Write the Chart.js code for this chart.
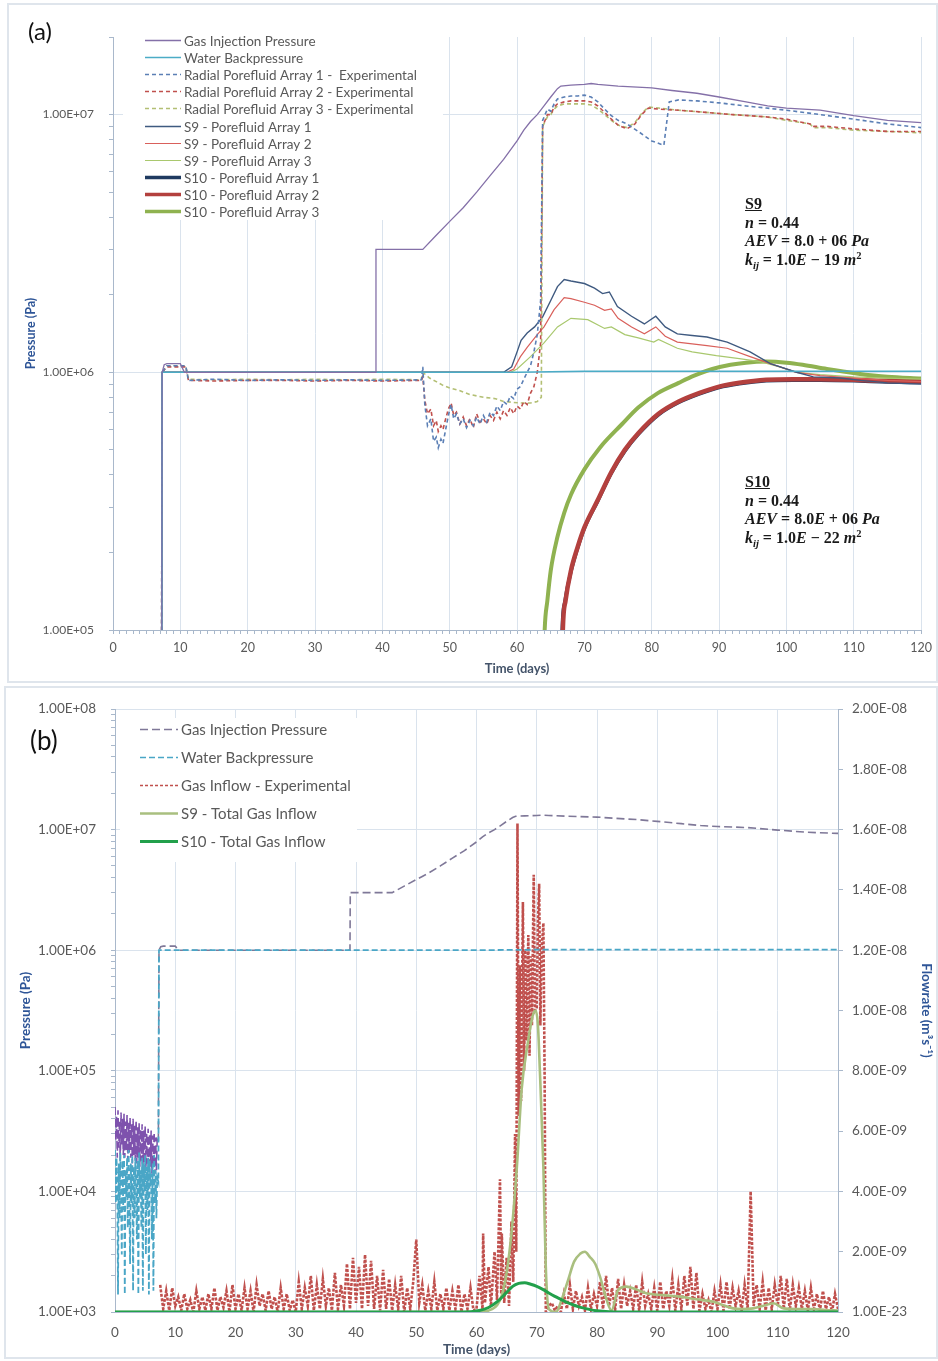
<!DOCTYPE html>
<html>
<head>
<meta charset="utf-8">
<title>Porefluid pressure and gas inflow</title>
<style>
  html, body { margin: 0; padding: 0; background: #fff; }
  #page { position: relative; width: 938px; height: 1361px; overflow: hidden; font-family: Lato, "DejaVu Sans", sans-serif; }
  .frame { position: absolute; border: 2px solid #dfe5ec; box-sizing: border-box; }
  canvas { position: absolute; left: 0; }
  .tag { position: absolute; color: #111; }
  .note { position: absolute; font-family: "Liberation Serif", "DejaVu Serif", serif; font-weight: bold; font-size: 16px; line-height: 18.5px; color: #1a1a1a; white-space: nowrap; }
  .note sub, .note sup { font-size: 10.5px; line-height: 0; }
</style>
</head>
<body>
<div id="page">
  <div class="frame" style="left:7px;top:3px;width:931px;height:680px"></div>
  <div class="frame" style="left:4px;top:686px;width:934px;height:673px"></div>
  <canvas id="chartA" width="938" height="683" style="top:0"></canvas>
  <canvas id="chartB" width="938" height="678" style="top:683px"></canvas>
  <div class="tag" style="left:28px;top:19px;font-size:24px;line-height:24px">(a)</div>
  <div class="tag" style="left:30px;top:727px;font-size:26px;line-height:26px">(b)</div>
  <div class="note" style="left:745px;top:195px">
    <u>S9</u><br>
    <i>n</i> = 0.44<br>
    <i>AEV</i> = 8.0 + 06 <i>Pa</i><br>
    <i>k<sub>ij</sub></i> = 1.0<i>E</i> − 19 <i>m</i><sup>2</sup>
  </div>
  <div class="note" style="left:745px;top:473px">
    <u>S10</u><br>
    <i>n</i> = 0.44<br>
    <i>AEV</i> = 8.0<i>E</i> + 06 <i>Pa</i><br>
    <i>k<sub>ij</sub></i> = 1.0<i>E</i> − 22 <i>m</i><sup>2</sup>
  </div>
</div>

<script src="https://cdn.jsdelivr.net/npm/chart.js"></script>
<script>
// sample times for evenly logged records
const ts = (start, step, n) => Array.from({ length: n }, (_, i) => +(start + i * step).toFixed(3));

// ---- axis labels ----
const dayLabels = [0, 10, 20, 30, 40, 50, 60, 70, 80, 90, 100, 110, 120];
const pressureTicksA = [1e5, 1e6, 1e7];
const pressureTicksB = [1e3, 1e4, 1e5, 1e6, 1e7, 1e8];
const flowTicks = [1e-23, 2e-9, 4e-9, 6e-9, 8e-9, 1e-8, 1.2e-8, 1.4e-8, 1.6e-8, 1.8e-8, 2e-8];

// ---- gas injection pressure (Pa) ----
const gasEarlyDays = ts(0, 0.125, 57);
const gasEarlyPa = [5.0e4, 2.6e4, 4.2e4, 1.9e4, 4.7e4, 2.3e4, 3.9e4, 1.8e4, 4.5e4, 2.4e4,
  4.0e4, 2.0e4, 4.4e4, 1.9e4, 3.8e4, 2.2e4, 4.3e4, 1.8e4, 3.7e4, 2.1e4,
  4.1e4, 1.9e4, 3.6e4, 1.7e4, 4.0e4, 2.0e4, 3.5e4, 1.8e4, 3.9e4, 1.7e4,
  3.4e4, 1.9e4, 3.7e4, 1.6e4, 3.3e4, 1.8e4, 3.6e4, 1.6e4, 3.2e4, 1.7e4,
  3.5e4, 1.5e4, 3.1e4, 1.7e4, 3.3e4, 1.5e4, 3.0e4, 1.6e4, 3.2e4, 1.4e4,
  2.9e4, 1.6e4, 3.1e4, 1.4e4, 2.8e4, 1.5e4, 2.7e4];
const gasLateDays = [7.2, 7.3, 7.6, 8, 10, 10.6, 11, 20, 30, 39, 39.05, 46, 48, 50, 52, 54, 56, 58, 60, 61, 62, 63, 64,
  65, 66, 66.5, 68, 70, 71, 72, 75, 80, 83, 86.7, 90, 94, 97.2, 100, 105, 110, 115, 120];
const gasLatePa = [2.6e4, 1.0e6, 1.07e6, 1.08e6, 1.08e6, 1.0e6, 1.0e6, 1.0e6, 1.0e6, 1.0e6, 3.0e6, 3.0e6, 3.4e6, 3.85e6,
  4.35e6, 5.0e6, 5.8e6, 6.7e6, 7.9e6, 8.7e6, 9.4e6, 1.0e7, 1.08e7, 1.17e7, 1.26e7, 1.29e7, 1.3e7, 1.31e7, 1.32e7,
  1.31e7, 1.29e7, 1.27e7, 1.24e7, 1.21e7, 1.17e7, 1.12e7, 1.08e7, 1.06e7, 1.04e7, 9.9e6, 9.5e6, 9.3e6];

// ---- water backpressure (Pa) ----
const waterEarlyDays = ts(0, 0.125, 57);
const waterEarlyPa = [2.2e4, 8e3, 1.9e4, 1.2e4, 1.4e3, 1.7e4, 6e3, 2.1e4, 1.0e4, 3e3,
  1.8e4, 7e3, 2.0e4, 1.4e3, 1.5e4, 9e3, 1.9e4, 5e3, 2.2e4, 1.1e4,
  2.5e3, 1.7e4, 8e3, 2.0e4, 1.5e3, 1.6e4, 6e3, 1.9e4, 1.2e4, 4e3,
  1.8e4, 1.4e3, 2.1e4, 9e3, 1.5e4, 5e3, 1.9e4, 1.5e3, 1.7e4, 1.0e4,
  2.0e4, 3e3, 1.6e4, 7e3, 1.9e4, 1.4e3, 1.8e4, 1.1e4, 1.4e4, 4e3,
  1.7e4, 1.5e3, 2.0e4, 8e3, 1.5e4, 6e3, 1.3e4];
const waterLateDays = [7.2, 7.3, 20, 40, 60, 70, 80, 100, 120];
const waterLatePa = [1.2e4, 1.0e6, 1.0e6, 1.0e6, 1.0e6, 1.01e6, 1.01e6, 1.01e6, 1.01e6];

// ---- radial porefluid arrays, experimental (Pa) ----
const exp1Days = [7.2, 7.3, 8, 10.8, 11.2, 15, 20, 25, 30, 35, 40, 45.8, 46, 46.3, 46.7, 47.2, 47.6, 48, 48.3, 48.7,
  49, 49.4, 49.8, 50.2, 50.6, 51, 51.5, 52, 52.5, 53, 53.5, 54, 54.5, 55, 55.5, 56, 56.5, 57, 57.5, 58, 58.5, 59,
  59.5, 60, 60.5, 61, 61.5, 62, 62.5, 63, 63.5, 63.8, 64.5, 65, 65.5, 66, 67, 68, 69, 70, 71, 72, 73, 74, 75, 76.3,
  78, 80, 81.8, 82.6, 84, 86.7, 90, 94, 97, 100, 105, 110, 115, 120];
const exp1Pa = [5e4, 1.0e6, 1.06e6, 1.06e6, 9.3e5, 9.4e5, 9.3e5, 9.35e5, 9.3e5, 9.35e5, 9.3e5, 9.35e5, 1.05e6, 7.5e5,
  6.2e5, 6.6e5, 5.4e5, 5.6e5, 5.1e5, 5.5e5, 5.3e5, 6.0e5, 6.8e5, 7.5e5, 6.6e5, 6.9e5, 6.3e5, 6.6e5, 6.1e5, 6.5e5,
  6.2e5, 6.7e5, 6.3e5, 6.8e5, 6.4e5, 7.0e5, 6.8e5, 7.4e5, 7.1e5, 7.7e5, 7.5e5, 8.1e5, 7.9e5, 8.6e5, 8.8e5, 9.4e5,
  1.0e6, 1.06e6, 1.2e6, 1.4e6, 1.9e6, 9.5e6, 1.05e7, 1.03e7, 1.1e7, 1.15e7, 1.17e7, 1.18e7, 1.18e7, 1.19e7, 1.17e7,
  1.12e7, 1.05e7, 9.9e6, 9.5e6, 9.2e6, 8.6e6, 7.9e6, 7.6e6, 1.12e7, 1.14e7, 1.13e7, 1.11e7, 1.08e7, 1.06e7, 1.04e7,
  1.0e7, 9.6e6, 9.2e6, 8.9e6];
const exp2Days = [7.2, 7.3, 8, 10.8, 11.2, 15, 20, 25, 30, 35, 40, 45.8, 46, 46.3, 46.7, 47.2, 47.6, 48, 48.3, 48.7,
  49, 49.4, 49.8, 50.2, 50.6, 51, 51.5, 52, 52.5, 53, 53.5, 54, 54.5, 55, 55.5, 56, 56.5, 57, 57.5, 58, 58.5, 59,
  59.5, 60, 60.5, 61, 61.5, 62, 62.5, 63, 63.5, 63.8, 64.5, 65, 65.5, 66, 67, 68, 69, 70, 71, 72, 73, 74, 75, 76.3,
  77.5, 78.5, 79.5, 81, 84, 88, 92, 97, 100, 103.5, 104, 106, 110, 115, 120];
const exp2Pa = [5e4, 1.0e6, 1.05e6, 1.05e6, 9.3e5, 9.25e5, 9.3e5, 9.3e5, 9.25e5, 9.3e5, 9.25e5, 9.3e5, 9.6e5, 7.8e5,
  6.9e5, 7.2e5, 6.2e5, 6.5e5, 5.9e5, 6.2e5, 6.0e5, 6.6e5, 7.2e5, 7.6e5, 6.8e5, 7.0e5, 6.3e5, 6.7e5, 6.2e5, 6.6e5,
  6.1e5, 6.9e5, 6.4e5, 6.6e5, 6.3e5, 6.8e5, 6.5e5, 7.0e5, 6.6e5, 7.1e5, 6.8e5, 7.3e5, 6.9e5, 7.4e5, 7.2e5, 7.7e5,
  7.5e5, 8.3e5, 8.8e5, 1.0e6, 1.3e6, 9.0e6, 1.0e7, 1.0e7, 1.07e7, 1.1e7, 1.12e7, 1.13e7, 1.13e7, 1.13e7, 1.12e7,
  1.08e7, 1.02e7, 9.6e6, 9.1e6, 8.8e6, 9.2e6, 1.0e7, 1.06e7, 1.05e7, 1.04e7, 1.02e7, 1.0e7, 9.8e6, 9.6e6, 9.2e6,
  9.0e6, 9.0e6, 8.8e6, 8.6e6, 8.6e6];
const exp3Days = [7.2, 7.3, 8, 10.8, 11.2, 15, 20, 25, 30, 35, 40, 45.8, 46, 47, 48, 49, 50, 51.4, 53, 55, 56.8, 58,
  60.5, 62, 63, 63.6, 63.8, 64.5, 65, 65.5, 66, 67, 68, 70, 71, 72, 73, 74, 75, 76.3, 77.5, 78.5, 79.5, 81, 84, 88,
  92, 97, 100, 103.5, 104, 106, 110, 115, 120];
const exp3Pa = [5e4, 1.0e6, 1.06e6, 1.06e6, 9.4e5, 9.35e5, 9.4e5, 9.35e5, 9.4e5, 9.35e5, 9.4e5, 9.35e5, 1.0e6, 9.5e5,
  9.2e5, 8.9e5, 8.7e5, 8.5e5, 8.2e5, 8.0e5, 7.9e5, 7.7e5, 7.6e5, 7.6e5, 7.7e5, 8.0e5, 9.0e6, 9.8e6, 1.0e7, 1.05e7,
  1.08e7, 1.1e7, 1.1e7, 1.1e7, 1.09e7, 1.05e7, 1.0e7, 9.5e6, 9.1e6, 8.9e6, 9.3e6, 1.01e7, 1.07e7, 1.06e7, 1.04e7,
  1.02e7, 1.0e7, 9.8e6, 9.5e6, 9.2e6, 8.9e6, 8.9e6, 8.7e6, 8.6e6, 8.5e6];

// ---- S9 simulation, porefluid arrays (Pa) ----
const s9p1Days = [7.2, 7.3, 30, 58, 59.2, 60, 60.6, 61.5, 62.6, 63.8, 65, 66, 67, 68, 70, 71.5, 72.7, 73.7, 74.9, 77,
  78.9, 80.6, 82, 83.8, 86, 88.2, 91.2, 94.6, 97.6, 101.5, 104, 108, 111, 115, 120];
const s9p1Pa = [5e4, 1.0e6, 1.0e6, 1.0e6, 1.05e6, 1.2e6, 1.33e6, 1.42e6, 1.5e6, 1.64e6, 1.9e6, 2.15e6, 2.29e6, 2.26e6,
  2.21e6, 2.12e6, 2.02e6, 2.05e6, 1.8e6, 1.65e6, 1.54e6, 1.65e6, 1.5e6, 1.41e6, 1.39e6, 1.37e6, 1.31e6, 1.2e6, 1.08e6,
  1.0e6, 9.6e5, 9.5e5, 9.3e5, 9.1e5, 9.0e5];
const s9p2Days = [7.2, 7.3, 30, 58.5, 59.5, 60.5, 61.5, 63, 64, 65.5, 67, 68, 70, 71.5, 73, 74, 75, 77, 78.9, 80.6, 82,
  83.8, 86, 88.2, 91.2, 94.6, 97.6, 101.5, 105, 110, 115, 120];
const s9p2Pa = [5e4, 1.0e6, 1.0e6, 1.0e6, 1.03e6, 1.15e6, 1.25e6, 1.4e6, 1.5e6, 1.75e6, 1.95e6, 1.93e6, 1.87e6, 1.82e6,
  1.74e6, 1.76e6, 1.62e6, 1.5e6, 1.41e6, 1.5e6, 1.38e6, 1.31e6, 1.29e6, 1.27e6, 1.24e6, 1.15e6, 1.08e6, 1.0e6, 9.7e5,
  9.5e5, 9.3e5, 9.2e5];
const s9p3Days = [7.2, 7.3, 30, 59, 60, 62, 64, 66, 68, 70.5, 73, 74, 76, 78, 80.3, 81, 83.8, 86, 89.6, 93, 96.1, 99,
  101.5, 105, 110, 115, 120];
const s9p3Pa = [5e4, 1.0e6, 1.0e6, 1.0e6, 1.03e6, 1.15e6, 1.3e6, 1.5e6, 1.62e6, 1.6e6, 1.48e6, 1.5e6, 1.4e6, 1.36e6,
  1.31e6, 1.34e6, 1.24e6, 1.2e6, 1.16e6, 1.13e6, 1.1e6, 1.05e6, 1.0e6, 9.8e5, 9.6e5, 9.5e5, 9.4e5];

// ---- S10 simulation, porefluid arrays (Pa) ----
const s10p1Days = [66.5, 66.7, 67.1, 68, 69, 70, 72, 74, 76, 78, 81, 84, 87, 90, 93, 97, 101, 105, 110, 115, 120];
const s10p1Pa = [5e4, 1.0e5, 1.29e5, 1.68e5, 2.08e5, 2.48e5, 3.17e5, 4.06e5, 4.94e5, 5.74e5, 6.84e5, 7.63e5, 8.23e5,
  8.73e5, 9.03e5, 9.27e5, 9.32e5, 9.32e5, 9.27e5, 9.17e5, 9.12e5];
const s10p2Days = [66.6, 66.8, 67.2, 68, 69, 70, 72, 74, 76, 78, 81, 84, 87, 90, 93, 97, 101, 105, 110, 115, 120];
const s10p2Pa = [5e4, 1.0e5, 1.3e5, 1.7e5, 2.1e5, 2.5e5, 3.2e5, 4.1e5, 5.0e5, 5.8e5, 6.9e5, 7.7e5, 8.3e5, 8.8e5, 9.1e5,
  9.35e5, 9.4e5, 9.4e5, 9.35e5, 9.25e5, 9.2e5];
const s10p3Days = [63.8, 64.1, 64.5, 65, 66, 67, 68, 70, 72.3, 75.6, 78, 80.9, 84, 86.3, 89, 91.7, 94, 97, 100, 102.4,
  106, 110.4, 115, 120];
const s10p3Pa = [5e4, 1.0e5, 1.3e5, 1.7e5, 2.3e5, 2.85e5, 3.35e5, 4.2e5, 5.1e5, 6.3e5, 7.3e5, 8.3e5, 9.1e5, 9.7e5,
  1.03e6, 1.07e6, 1.09e6, 1.1e6, 1.09e6, 1.07e6, 1.03e6, 9.9e5, 9.6e5, 9.45e5];

// ---- gas inflow, experimental (1e-9 m3/s) ----
const inflowDaysA = ts(7.5, 0.5, 105);
const inflowRateA = [0.9, 0.1, 0.7, 0.05, 0.8, 0.2,
  0.5, 0.05, 0.6, 0.1, 0.4, 0.0, 0.7, 0.1, 0.5, 0.05,
  0.6, 0.1, 0.8, 0.05, 0.5, 0.15, 0.7, 0.0, 0.9, 0.1,
  0.6, 0.05, 0.8, 0.1, 0.7, 0.0, 0.9, 0.2, 0.6, 0.05,
  0.7, 0.1, 0.5, 0.0, 0.8, 0.1, 0.6, 0.05, 0.4, 0.0,
  1.0, 0.1, 0.8, 0.2, 1.2, 0.05, 0.9, 0.1, 1.1, 0.2,
  0.8, 0.05, 1.3, 0.1, 0.9, 0.2, 1.6, 0.1, 1.8, 0.3,
  1.5, 0.1, 1.9, 0.2, 1.7, 0.1, 1.2, 0.05, 1.4, 0.1,
  1.1, 0.05, 0.9, 0.1, 1.2, 0.0, 0.8, 0.1, 1.0, 2.4,
  0.3, 0.9, 0.05, 0.7, 0.1, 1.0, 0.05, 0.6, 0.1, 0.8,
  0.05, 0.7, 0.1, 0.9, 0.0, 0.6, 0.1, 0.8, 0.05];
const inflowBurstDays = [60, 60.5, 61, 61.1, 61.4, 62, 62.4, 63, 63.4, 63.9, 64.1, 64.2, 64.6, 65, 65.4, 65.8, 66.1,
  66.4, 66.6, 66.8, 67.0, 67.2, 67.4, 67.7, 67.9, 68.1, 68.3, 68.6, 68.8, 69.0, 69.2, 69.5, 69.7, 70.0, 70.2, 70.4,
  70.6, 70.8, 71.1, 71.3, 71.5, 72];
const inflowBurstRate = [0.1, 1.2, 0.1, 2.6, 0.3, 1.5, 0.2, 2.0, 0.4, 4.4, 0.6, 2.6, 0.3, 1.8, 0.2, 3.0, 1.0, 5.9, 2.0,
  16.2, 6.5, 11.5, 7.0, 13.6, 8.0, 12.0, 9.0, 12.5, 8.5, 11.8, 9.5, 14.5, 10.0, 10.1, 13.0, 14.2, 9.5, 12.0, 12.9,
  8.0, 0.0, 0.2];
const inflowDaysB = ts(72.5, 0.5, 96);
const inflowRateB = [0.3, 0.05, 0.2, 0.0, 0.6, 0.1,
  0.9, 0.1, 0.7, 0.2, 0.5, 0.05, 0.8, 0.1, 0.6, 0.2,
  1.0, 0.1, 1.2, 0.2, 0.8, 0.05, 1.1, 0.1, 0.9, 0.2,
  0.7, 0.1, 0.9, 0.05, 1.0, 0.2, 0.6, 0.1, 0.8, 0.05,
  1.0, 0.1, 0.7, 0.2, 1.1, 0.05, 0.9, 0.1, 1.2, 0.2,
  1.5, 0.1, 1.3, 0.05, 0.6, 0.1, 0.4, 0.0, 0.7, 0.1,
  0.9, 0.05, 1.0, 0.1, 0.8, 0.2, 0.7, 0.05, 0.9, 0.1,
  4.0, 0.2, 0.9, 0.1, 1.0, 0.05, 0.8, 0.1, 0.9, 0.2,
  1.2, 0.1, 1.1, 0.05, 0.9, 0.2, 0.8, 0.1, 0.7, 0.05,
  0.8, 0.1, 0.6, 0.05, 0.7, 0.1, 0.5, 0.0, 0.6, 0.1];

// ---- simulated total gas inflow (1e-9 m3/s) ----
const s9FlowDays = [0, 60, 62, 63.5, 64.2, 65.0, 65.8, 66.7, 67.5, 68.5, 69.3, 69.8, 70.2, 70.5, 71.1, 71.5, 72, 73.2,
  74.2, 75.2, 76.2, 77.2, 78, 78.8, 79.7, 80.5, 81.6, 82.4, 83.5, 84.9, 86.5, 88.2, 91, 93.8, 96.5, 99.3, 101, 102.6,
  104, 105.9, 107.5, 109.3, 111, 113, 115.9, 118, 120];
const s9FlowRate = [0, 0, 0.05, 0.25, 0.55, 1.3, 2.6, 4.8, 7.4, 8.9, 9.8, 10.0, 9.5, 8.1, 4.8, 1.5, 0.1, 0.0, 0.45,
  1.06, 1.67, 1.93, 2.0, 1.83, 1.6, 1.17, 0.4, 0.05, 0.73, 0.84, 0.75, 0.62, 0.56, 0.51, 0.42, 0.34, 0.22, 0.12, 0.1,
  0.12, 0.2, 0.29, 0.12, 0.1, 0.1, 0.06, 0.05];
const s10FlowDays = [0, 58, 60, 62, 63.5, 65, 66, 67, 68, 69, 70, 71, 72, 73, 74, 75, 76, 77, 78, 79, 80, 82, 84, 120];
const s10FlowRate = [0, 0, 0.03, 0.15, 0.35, 0.65, 0.85, 0.95, 0.97, 0.92, 0.85, 0.75, 0.63, 0.52, 0.42, 0.32, 0.24,
  0.17, 0.12, 0.07, 0.04, 0.01, 0, 0];

// ---- styling ----
const AXIS = '#a9b8cb';
const GRID = '#dae3ed';
const TICK_TXT = '#595959';
const TITLE_BLUE = '#2e5597';
const TITLE_SLATE = '#44546a';
const CLEAR = 'rgba(0,0,0,0)';
Chart.defaults.font.family = 'Lato, "DejaVu Sans", sans-serif';

const pts = (xs, ys, k = 1) => xs.map((x, i) => ({ x, y: ys[i] * k }));
const isDecade = v => Math.abs(Math.log10(v) - Math.round(Math.log10(v))) < 1e-6;

function fmtE(v) {
  const [m, e] = v.toExponential(2).split('e');
  const n = Number(e);
  return m + 'E' + (n < 0 ? '-' : '+') + String(Math.abs(n)).padStart(2, '0');
}

// decade ticks plus the 2..9 minor marks of a log axis
function logMarks(lo, hi) {
  const out = [];
  for (let e = Math.round(Math.log10(lo)); e <= Math.round(Math.log10(hi)); e++) {
    for (let k = 1; k <= 9; k++) {
      const v = k * Math.pow(10, e);
      if (v >= lo && v <= hi * 1.0001) out.push(v);
    }
  }
  return out;
}

function line(label, data, color, width, extra) {
  return Object.assign({
    label, data, borderColor: color, backgroundColor: color, borderWidth: width,
    pointRadius: 0, tension: 0, fill: false
  }, extra || {});
}

// white legend box drawn over the grid, under the data
const boxLegend = {
  id: 'boxLegend',
  beforeDatasetsDraw(chart, args, o) {
    const ctx = chart.ctx;
    ctx.save();
    ctx.fillStyle = '#fff';
    ctx.fillRect(o.box[0], o.box[1], o.box[2], o.box[3]);
    ctx.font = o.font;
    ctx.textBaseline = 'middle';
    chart.data.datasets.forEach((ds, i) => {
      const y = Math.round(o.y0 + i * o.dy) + 0.5;
      ctx.strokeStyle = ds.borderColor;
      ctx.lineWidth = Math.min(ds.legendWidth || ds.borderWidth, 3.5);
      ctx.setLineDash(ds.legendDash || ds.borderDash || []);
      ctx.beginPath();
      ctx.moveTo(o.x0, y);
      ctx.lineTo(o.x1, y);
      ctx.stroke();
      ctx.fillStyle = o.color;
      ctx.fillText(ds.label, o.tx, y + 1);
    });
    ctx.restore();
  }
};

const gasAll = pts(gasEarlyDays, gasEarlyPa).concat(pts(gasLateDays, gasLatePa));
const waterAll = pts(waterEarlyDays, waterEarlyPa).concat(pts(waterLateDays, waterLatePa));
const dayMarks = Array.from({ length: 121 }, (_, i) => i);

// ================= (a) porefluid pressures =================
new Chart(document.getElementById('chartA'), {
  type: 'line',
  data: {
    datasets: [
      line('Gas Injection Pressure', gasAll, '#8470a8', 1.3),
      line('Water Backpressure', waterAll, '#4bacc6', 1.6),
      line('Radial Porefluid Array 1 -  Experimental', pts(exp1Days, exp1Pa), '#5b7fb5', 1.6, { borderDash: [4, 3], legendWidth: 1.3 }),
      line('Radial Porefluid Array 2 - Experimental', pts(exp2Days, exp2Pa), '#c0504d', 1.6, { borderDash: [4, 3], legendWidth: 1.3 }),
      line('Radial Porefluid Array 3 - Experimental', pts(exp3Days, exp3Pa), '#b3bf74', 1.6, { borderDash: [4, 3], legendWidth: 1.3 }),
      line('S9 - Porefluid Array 1', pts(s9p1Days, s9p1Pa), '#3f5a80', 1.4),
      line('S9 - Porefluid Array 2', pts(s9p2Days, s9p2Pa), '#d9605b', 1.2),
      line('S9 - Porefluid Array 3', pts(s9p3Days, s9p3Pa), '#a9c86e', 1.2),
      line('S10 - Porefluid Array 1', pts(s10p1Days, s10p1Pa), '#1f3a60', 3.5, { cubicInterpolationMode: 'monotone', order: 1 }),
      line('S10 - Porefluid Array 2', pts(s10p2Days, s10p2Pa), '#b3403e', 4.5, { cubicInterpolationMode: 'monotone' }),
      line('S10 - Porefluid Array 3', pts(s10p3Days, s10p3Pa), '#8fb250', 4, { cubicInterpolationMode: 'monotone' })
    ]
  },
  options: {
    responsive: false,
    animation: false,
    devicePixelRatio: 1,
    layout: { padding: { left: 0, right: 13, top: 37, bottom: 0 } },
    plugins: {
      legend: { display: false },
      tooltip: { enabled: false },
      boxLegend: { box: [123, 30, 320, 190], x0: 145, x1: 181, tx: 184, y0: 40, dy: 17.1, font: '13.5px Lato, "DejaVu Sans", sans-serif', color: '#595959' }
    },
    scales: {
      x: {
        type: 'linear', min: 0, max: 120,
        afterBuildTicks: s => { s.ticks = dayMarks.map(value => ({ value })); },
        afterFit: s => { s.height = 53; },
        ticks: { autoSkip: false, maxRotation: 0, padding: 6, color: TICK_TXT, font: { size: 12.5 },
          callback: v => dayLabels.includes(v) ? String(v) : '' },
        grid: { color: c => c.tick && c.tick.value > 0 && c.tick.value % 10 === 0 ? GRID : CLEAR, tickColor: AXIS, tickLength: 4 },
        border: { color: AXIS },
        title: { display: true, text: 'Time (days)', color: TITLE_SLATE, font: { size: 13, weight: 'bold' }, padding: { top: 0, bottom: 6 } }
      },
      y: {
        type: 'logarithmic', min: 1e5, max: 2e7,
        afterBuildTicks: s => { s.ticks = logMarks(1e5, 2e7).map(value => ({ value })); },
        afterFit: s => { s.width = 113; },
        ticks: { autoSkip: false, padding: 15, color: TICK_TXT, font: { size: 12 },
          callback: v => pressureTicksA.includes(v) ? fmtE(v) : '' },
        grid: { color: c => c.tick && isDecade(c.tick.value) ? GRID : CLEAR, tickColor: AXIS, tickLength: 4 },
        border: { color: AXIS },
        title: { display: true, text: 'Pressure (Pa)', color: TITLE_BLUE, font: { size: 12.5, weight: 'bold' }, padding: { top: 23, bottom: 0 } }
      }
    }
  },
  plugins: [boxLegend]
});

// ================= (b) pressures and gas inflow =================
const inflowAll = pts(inflowDaysA, inflowRateA, 1e-9)
  .concat(pts(inflowBurstDays, inflowBurstRate, 1e-9))
  .concat(pts(inflowDaysB, inflowRateB, 1e-9));

new Chart(document.getElementById('chartB'), {
  type: 'line',
  data: {
    datasets: [
      line('Gas Injection Pressure', gasAll, '#7f7898', 1.6, {
        borderDash: [8, 4], yAxisID: 'y', legendWidth: 1.5,
        segment: { borderColor: c => c.p1.parsed.x <= 7.25 ? '#7e52ad' : undefined }
      }),
      line('Water Backpressure', waterAll, '#4aa6c6', 1.8, { borderDash: [6, 3], yAxisID: 'y', order: -1, legendWidth: 1.5 }),
      line('Gas Inflow - Experimental', inflowAll, '#c0504d', 2.6, { borderDash: [3, 1.5], yAxisID: 'yFlow', legendWidth: 1.5, legendDash: [3, 2] }),
      line('S9 - Total Gas Inflow', pts(s9FlowDays, s9FlowRate, 1e-9), '#a9bf7f', 2.6, { yAxisID: 'yFlow', cubicInterpolationMode: 'monotone', order: -2 }),
      line('S10 - Total Gas Inflow', pts(s10FlowDays, s10FlowRate, 1e-9), '#22a04b', 3, { yAxisID: 'yFlow', cubicInterpolationMode: 'monotone', order: -3 })
    ]
  },
  options: {
    responsive: false,
    animation: false,
    devicePixelRatio: 1,
    layout: { padding: { left: 0, right: 0, top: 26, bottom: 0 } },
    plugins: {
      legend: { display: false },
      tooltip: { enabled: false },
      boxLegend: { box: [120, 35, 237, 144], x0: 140, x1: 178, tx: 181, y0: 46, dy: 28, font: '15px Lato, "DejaVu Sans", sans-serif', color: '#595959' }
    },
    scales: {
      x: {
        type: 'linear', min: 0, max: 120,
        afterBuildTicks: s => { s.ticks = dayLabels.map(value => ({ value })); },
        afterFit: s => { s.height = 49; },
        ticks: { autoSkip: false, maxRotation: 0, padding: 13, color: TICK_TXT, font: { size: 13.5 } },
        grid: { color: c => c.tick && c.tick.value > 0 && c.tick.value < 120 ? GRID : CLEAR, drawTicks: false },
        border: { color: AXIS },
        title: { display: true, text: 'Time (days)', color: TITLE_SLATE, font: { size: 13.5, weight: 'bold' }, padding: { top: 0, bottom: 3 } }
      },
      y: {
        type: 'logarithmic', position: 'left', min: 1e3, max: 1e8,
        afterBuildTicks: s => { s.ticks = logMarks(1e3, 1e8).map(value => ({ value })); },
        afterFit: s => { s.width = 115; },
        ticks: { autoSkip: false, padding: 15, color: TICK_TXT, font: { size: 13.5 },
          callback: v => pressureTicksB.includes(v) ? fmtE(v) : '' },
        grid: { color: c => c.tick && isDecade(c.tick.value) ? GRID : CLEAR, tickColor: AXIS, tickLength: 4 },
        border: { color: AXIS },
        title: { display: true, text: 'Pressure (Pa)', color: TITLE_BLUE, font: { size: 13.5, weight: 'bold' }, padding: { top: 18, bottom: 0 } }
      },
      yFlow: {
        type: 'linear', position: 'right', min: 1e-23, max: 2e-8,
        afterBuildTicks: s => { s.ticks = flowTicks.map(value => ({ value })); },
        afterFit: s => { s.width = 100; },
        ticks: { autoSkip: false, padding: 9, color: TICK_TXT, font: { size: 13.5 }, callback: v => fmtE(v) },
        grid: { drawOnChartArea: false, tickColor: AXIS, tickLength: 5 },
        border: { color: AXIS },
        title: { display: true, text: 'Flowrate (m³s⁻¹)', color: TITLE_BLUE, font: { size: 13.5, weight: 'bold' }, padding: { top: 4, bottom: 0 } }
      }
    }
  },
  plugins: [boxLegend]
});
</script>
</body>
</html>
